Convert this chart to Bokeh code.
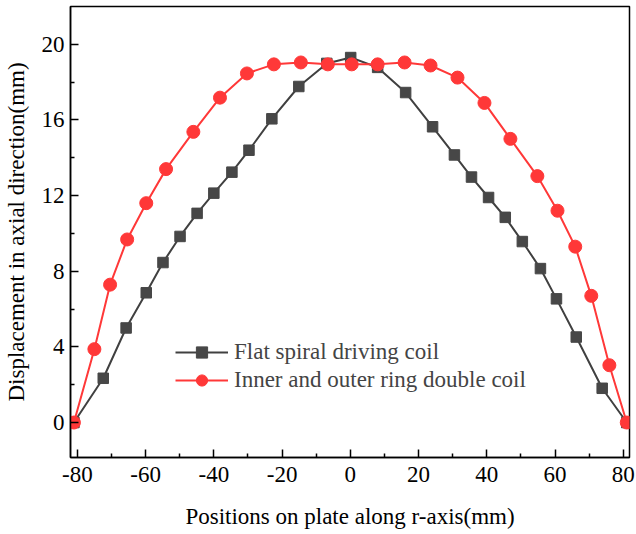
from bokeh.plotting import figure
from bokeh.models import FixedTicker, Legend, LegendItem, Range1d
from bokeh.embed import file_html
from bokeh.resources import INLINE

# Data
flat_x = [-81, -72.4, -65.7, -59.8, -54.9, -49.9, -44.9, -40.0, -34.7, -29.7, -23.0, -15.1, -6.9,
          0.1, 8.0, 16.2, 24.1, 30.5, 35.5, 40.5, 45.4, 50.4, 55.7, 60.4, 66.2, 73.8, 81]
flat_y = [0.0, 2.34, 5.0, 6.86, 8.46, 9.84, 11.06, 12.13, 13.24, 14.4, 16.06, 17.77, 18.99,
          19.3, 18.78, 17.45, 15.64, 14.15, 12.98, 11.9, 10.85, 9.57, 8.14, 6.54, 4.52, 1.81, 0.0]

ring_x = [-81, -75.0, -70.4, -65.4, -59.8, -54.0, -46.0, -38.2, -30.3, -22.4, -14.5, -6.6,
          0.4, 8.0, 15.9, 23.5, 31.4, 39.3, 46.9, 54.8, 60.7, 65.9, 70.6, 75.9, 81]
ring_y = [0.0, 3.88, 7.29, 9.68, 11.6, 13.4, 15.37, 17.18, 18.46, 18.94, 19.04, 18.94,
          18.94, 18.94, 19.04, 18.88, 18.24, 16.9, 15.0, 13.03, 11.2, 9.3, 6.7, 3.03, 0.0]

x_ticks = [-80, -60, -40, -20, 0, 20, 40, 60, 80]
x_minor = [-70, -50, -30, -10, 10, 30, 50, 70]
y_ticks = [0, 4, 8, 12, 16, 20]
y_minor = [2, 6, 10, 14, 18]

labels = ["Flat spiral driving coil", "Inner and outer ring double coil"]
x_title = "Positions on plate along r-axis(mm)"
y_title = "Displacement in axial direction(mm)"

FONT = "Liberation Serif"
FS = "23px"
BLACK_LINE = "#404040"
BLACK_MARK = "#474747"
RED = "#ff3838"

p = figure(width=636, height=534, output_backend="svg", toolbar_location=None,
           x_range=Range1d(-82, 81.8), y_range=Range1d(-1.85, 22),
           min_border_left=69, min_border_right=7, min_border_top=6, min_border_bottom=77)
p.grid.visible = False
p.outline_line_color = "black"
p.outline_line_width = 1.5
p.background_fill_color = "white"
p.border_fill_color = "white"

for ax, ticks, minor in ((p.xaxis[0], x_ticks, x_minor), (p.yaxis[0], y_ticks, y_minor)):
    ax.ticker = FixedTicker(ticks=ticks, minor_ticks=minor)
    ax.major_label_overrides = {t: str(t) for t in ticks}
    ax.major_tick_in = 8
    ax.major_tick_out = 0
    ax.minor_tick_in = 4
    ax.minor_tick_out = 0
    ax.axis_line_width = 1.5
    ax.major_tick_line_width = 1.5
    ax.minor_tick_line_width = 1.5
    ax.axis_line_color = "black"
    ax.major_tick_line_color = "black"
    ax.minor_tick_line_color = "black"
    ax.major_label_text_font = FONT
    ax.major_label_text_font_size = FS
    ax.major_label_text_color = "black"
    ax.axis_label_text_font = FONT
    ax.axis_label_text_font_size = FS
    ax.axis_label_text_font_style = "normal"
    ax.axis_label_text_color = "black"

p.xaxis.axis_label = x_title
p.yaxis.axis_label = y_title
p.xaxis.major_label_standoff = 9
p.xaxis.axis_label_standoff = 19
p.yaxis.major_label_standoff = 6
p.yaxis.axis_label_standoff = 10

l1 = p.line(flat_x, flat_y, line_color=BLACK_LINE, line_width=2)
m1 = p.scatter(flat_x, flat_y, marker="square", size=10.5, fill_color=BLACK_MARK, line_color=BLACK_MARK)
l2 = p.line(ring_x, ring_y, line_color=RED, line_width=2)
m2 = p.scatter(ring_x, ring_y, marker="circle", size=13, fill_color=RED, line_color=RED)

legend = Legend(items=[LegendItem(label=labels[0], renderers=[l1, m1]),
                       LegendItem(label=labels[1], renderers=[l2, m2])],
                location=(105, 63), border_line_color=None, background_fill_alpha=0,
                padding=0, margin=0, spacing=0, glyph_width=53, glyph_height=28,
                label_standoff=6, label_text_font=FONT, label_text_font_size=FS,
                label_height=28)
p.add_layout(legend, "center")

open("out.html", "w").write(file_html(p, INLINE))
